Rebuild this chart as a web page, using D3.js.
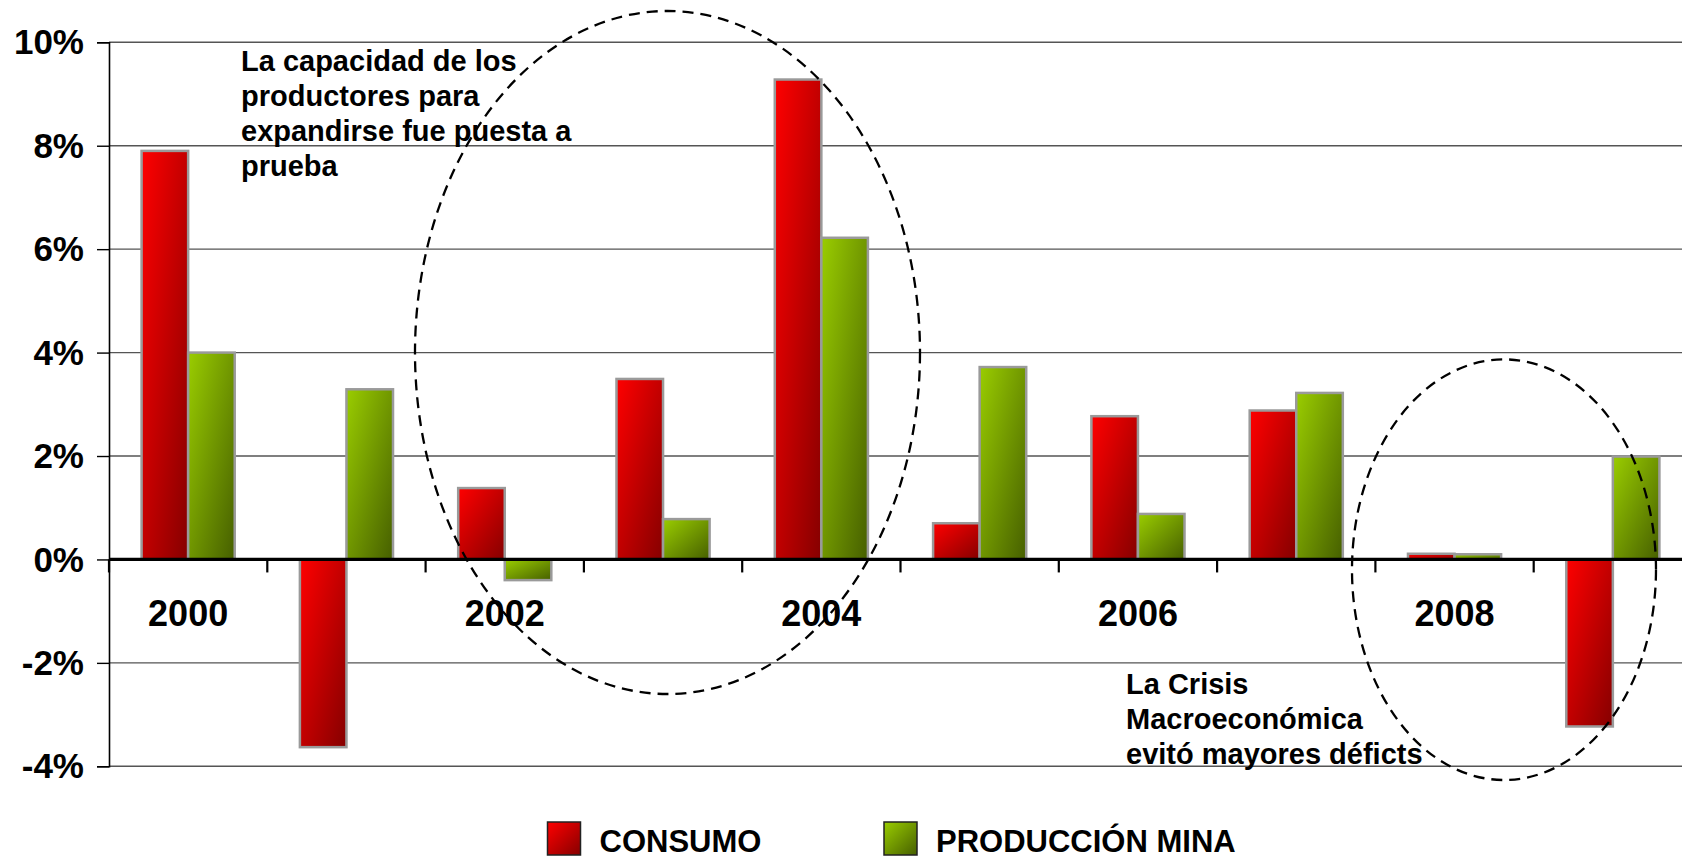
<!DOCTYPE html>
<html>
<head>
<meta charset="utf-8">
<script src="https://cdn.jsdelivr.net/npm/d3@7"></script>
<style>
  html, body { margin: 0; padding: 0; background: #fff; }
  svg { display: block; font-family: "Liberation Sans", Arial, Helvetica, sans-serif; font-weight: bold; }
</style>
</head>
<body>
<svg id="chart" width="1682" height="859"></svg>
<script>
// data
var years = ["2000", "2001", "2002", "2003", "2004", "2005", "2006", "2007", "2008", "2009"]
var consumo = [7.9, -3.63, 1.38, 3.49, 9.28, 0.70, 2.77, 2.88, 0.11, -3.23]
var produccion = [4.0, 3.29, -0.40, 0.78, 6.22, 3.72, 0.88, 3.22, 0.10, 1.99]
var seriesNames = ["CONSUMO", "PRODUCCIÓN MINA"]
var yTicks = [-4, -2, 0, 2, 4, 6, 8, 10]
var noteTop = ["La capacidad de los", "productores para", "expandirse fue puesta a", "prueba"]
var noteBottom = ["La Crisis", "Macroeconómica", "evitó mayores déficts"]

var svg = d3.select("#chart")
var W = 1682, H = 859

var y = d3.scaleLinear().domain([-4, 10]).range([766.3, 42.3])
var x0 = d3.scaleBand().domain(years).range([109, 1692]).padding(0)
var x1 = d3.scaleBand().domain(seriesNames).range([0, x0.bandwidth()]).paddingInner(0).paddingOuter(0.7)

var rows = years.map(function (yr, i) {
  return { year: yr, values: [
    { key: seriesNames[0], v: consumo[i] },
    { key: seriesNames[1], v: produccion[i] }
  ]}
})

// gradients, bright top-left to dark bottom-right
var defs = svg.append("defs")
var fills = [
  { id: "gRed", from: "#ff0000", to: "#850000" },
  { id: "gGreen", from: "#9acd00", to: "#465f00" }
]
fills.forEach(function (f) {
  var g = defs.append("linearGradient").attr("id", f.id)
    .attr("x1", 0).attr("y1", 0).attr("x2", 1).attr("y2", 1)
  g.append("stop").attr("offset", "0%").attr("stop-color", f.from)
  g.append("stop").attr("offset", "100%").attr("stop-color", f.to)
})
var colorOf = d3.scaleOrdinal().domain(seriesNames).range(["url(#gRed)", "url(#gGreen)"])

// gridlines
svg.append("g").selectAll("line")
  .data(yTicks.filter(function (d) { return d !== 0 }))
  .enter().append("line")
  .attr("x1", 109).attr("x2", W)
  .attr("y1", function (d) { return y(d) }).attr("y2", function (d) { return y(d) })
  .attr("stroke", "#555").attr("stroke-width", 1.4)

// bars
var groups = svg.append("g").selectAll("g")
  .data(rows).enter().append("g")
  .attr("transform", function (d) { return "translate(" + x0(d.year) + ",0)" })

groups.selectAll("rect")
  .data(function (d) { return d.values })
  .enter().append("rect")
  .attr("x", function (d) { return x1(d.key) })
  .attr("width", x1.bandwidth())
  .attr("y", function (d) { return y(Math.max(0, d.v)) })
  .attr("height", function (d) { return Math.abs(y(d.v) - y(0)) })
  .attr("fill", function (d) { return colorOf(d.key) })
  .attr("stroke", "#9a9a9a").attr("stroke-width", 2.5)

// y axis
var yAxis = svg.append("g").attr("transform", "translate(109,0)")
  .call(d3.axisLeft(y).tickValues(yTicks).tickSize(12).tickPadding(13)
    .tickFormat(function (d) { return d + "%" }))
yAxis.select(".domain").attr("stroke", "#000").attr("stroke-width", 1.6)
yAxis.selectAll(".tick line").attr("stroke", "#000").attr("stroke-width", 1.4)
yAxis.selectAll(".tick text").attr("font-size", 35).attr("font-family", null)
  .attr("fill", "#000").attr("dy", "0.33em")

// zero line and category ticks
svg.append("line").attr("x1", 109).attr("x2", W).attr("y1", y(0)).attr("y2", y(0))
  .attr("stroke", "#000").attr("stroke-width", 3.2)
svg.append("g").selectAll("line")
  .data(years).enter().append("line")
  .attr("x1", function (d) { return x0(d) }).attr("x2", function (d) { return x0(d) })
  .attr("y1", y(0)).attr("y2", y(0) + 13)
  .attr("stroke", "#000").attr("stroke-width", 2.2)

// year labels, every other year
var xAxis = svg.append("g").attr("transform", "translate(0," + y(0) + ")")
  .call(d3.axisBottom(x0).tickSize(0).tickPadding(0)
    .tickFormat(function (d, i) { return i % 2 === 0 ? d : "" }))
xAxis.select(".domain").remove()
xAxis.selectAll(".tick text").attr("font-size", 36).attr("font-family", null)
  .attr("fill", "#000").attr("dy", null).attr("y", 67)

// annotations
function note(lines, x, yTop) {
  svg.append("text").attr("x", x).attr("y", yTop).attr("font-size", 29).attr("fill", "#000")
    .selectAll("tspan").data(lines).enter().append("tspan")
    .attr("x", x).attr("dy", function (d, i) { return i === 0 ? 0 : 35 })
    .text(function (d) { return d })
}
note(noteTop, 241, 71)
note(noteBottom, 1126, 694)

// dashed ellipses
var ellipses = [
  { cx: 667.5, cy: 352.5, rx: 252.5, ry: 341.5 },
  { cx: 1504, cy: 569.7, rx: 152, ry: 210.3 }
]
svg.append("g").selectAll("ellipse").data(ellipses).enter().append("ellipse")
  .attr("cx", function (d) { return d.cx }).attr("cy", function (d) { return d.cy })
  .attr("rx", function (d) { return d.rx }).attr("ry", function (d) { return d.ry })
  .attr("fill", "none").attr("stroke", "#000").attr("stroke-width", 2.3)
  .attr("stroke-dasharray", "11,7")

// legend (kept just inside the bottom edge)
var legendX = [547.5, 884]
var legend = svg.append("g").selectAll("g").data(seriesNames).enter().append("g")
  .attr("transform", function (d, i) { return "translate(" + legendX[i] + ",822)" })
legend.append("rect").attr("width", 33).attr("height", 33)
  .attr("fill", function (d) { return colorOf(d) })
  .attr("stroke", "#222").attr("stroke-width", 1.5)
legend.append("text").attr("x", 52).attr("y", 30).attr("font-size", 31).attr("fill", "#000")
  .text(function (d) { return d })
</script>
</body>
</html>
